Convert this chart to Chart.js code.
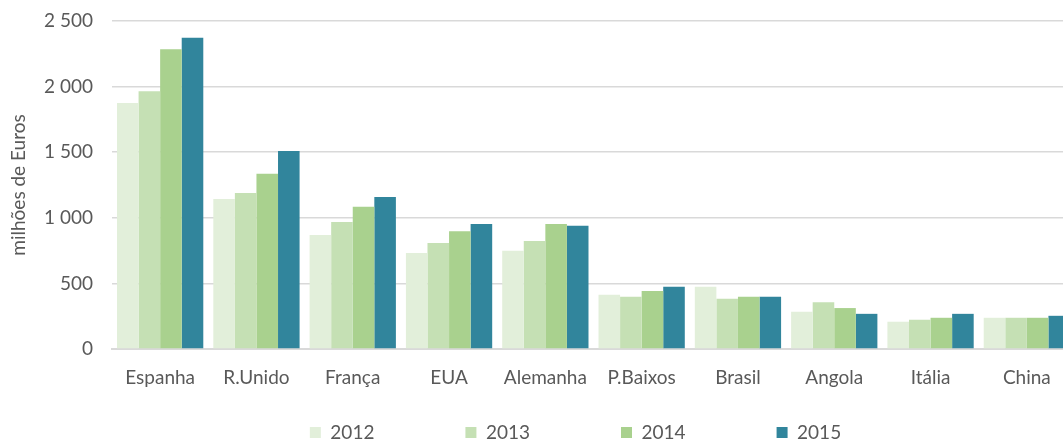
<!DOCTYPE html>
<html>
<head>
<meta charset="utf-8">
<script src="https://cdn.jsdelivr.net/npm/chart.js@4"></script>
<style>
  html, body { margin: 0; padding: 0; background: #fff; overflow: hidden; }
  #wrap { width: 1075px; height: 443px; }
</style>
</head>
<body>
<div id="wrap"><canvas id="exportChart"></canvas></div>
<script>
// Exportações por mercado, milhões de euros
const countries = ['Espanha', 'R.Unido', 'França', 'EUA', 'Alemanha', 'P.Baixos', 'Brasil', 'Angola', 'Itália', 'China'];
const years = ['2012', '2013', '2014', '2015'];
const v2012 = [1875, 1143, 869, 732, 748, 413, 474, 284, 208, 238];
const v2013 = [1964, 1189, 968, 808, 824, 398, 383, 357, 223, 238];
const v2014 = [2284, 1335, 1084, 897, 953, 443, 398, 312, 238, 238];
const v2015 = [2373, 1510, 1158, 953, 940, 474, 398, 268, 268, 253];
const yTicks = [0, 500, 1000, 1500, 2000, 2500];

const colors = ['#e2efda', '#c5e0b4', '#a9d18e', '#31859c'];
const series = [v2012, v2013, v2014, v2015];
const textColor = '#595959';
const fontFamily = 'Lato, "Open Sans", sans-serif';

// thousands with a space: 2 500
function fmt(v) {
  if (v < 1000) return String(v);
  const th = Math.floor(v / 1000);
  const rest = String(v % 1000).padStart(3, '0');
  return th + ' ' + rest;
}

// the wide label padding would make the legend box too tall,
// so it is capped with maxHeight and its top pulled back up here
const legendNudge = {
  id: 'legendNudge',
  afterLayout(chart) {
    const lg = chart.legend;
    if (!lg) return;
    lg.top -= 81;
    lg.left += 38;
    lg.right += 38;
  }
};

const ctx = document.getElementById('exportChart');
const myChart = new Chart(ctx, {
  type: 'bar',
  data: {
    labels: countries,
    datasets: years.map((y, i) => ({
      label: y,
      data: series[i],
      backgroundColor: colors[i],
      borderWidth: 0,
      categoryPercentage: 0.896,
      barPercentage: 1
    }))
  },
  options: {
    responsive: true,
    maintainAspectRatio: false,
    animation: false,
    layout: { padding: { top: 21, right: 0, bottom: 0, left: 0 } },
    plugins: {
      tooltip: { enabled: false },
      legend: {
        position: 'bottom',
        maxHeight: 30,
        labels: {
          boxWidth: 11,
          boxHeight: 11,
          padding: 91,
          color: textColor,
          font: { family: fontFamily, size: 19 }
        }
      }
    },
    scales: {
      x: {
        grid: { display: false, drawTicks: false },
        border: { display: true, color: '#d9d9d9', width: 2 },
        ticks: {
          color: textColor,
          padding: 17,
          font: { family: fontFamily, size: 19 }
        },
        afterFit(scale) { scale.height = 64; }
      },
      y: {
        min: 0,
        max: 2500,
        afterBuildTicks(scale) { scale.ticks = yTicks.map(v => ({ value: v })); },
        grid: { color: '#d9d9d9', lineWidth: 1.5, drawTicks: false },
        border: { display: false },
        ticks: {
          color: textColor,
          padding: 19,
          font: { family: fontFamily, size: 19 },
          callback: function(value) { return fmt(value); }
        },
        title: {
          display: true,
          text: 'milhões de Euros',
          color: textColor,
          padding: { top: 7, bottom: 0 },
          font: { family: fontFamily, size: 19 }
        },
        afterFit(scale) {
          scale.width = 112;
          // top/bottom spacing comes from layout.padding alone
          scale.paddingTop = 0;
          scale.paddingBottom = 0;
        }
      }
    }
  },
  plugins: [legendNudge]
});
</script>
</body>
</html>
